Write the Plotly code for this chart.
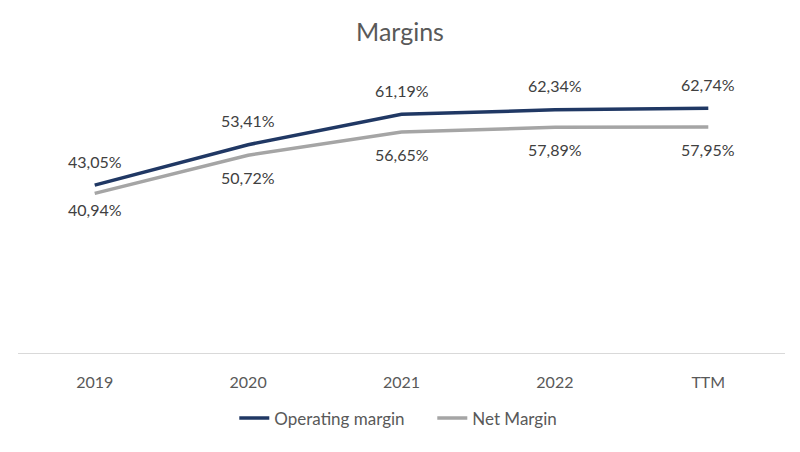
import plotly.graph_objects as go

years = ["2019", "2020", "2021", "2022", "TTM"]
operating_margin = [43.05, 53.41, 61.19, 62.34, 62.74]
net_margin = [40.94, 50.72, 56.65, 57.89, 57.95]

NAVY = "#203864"
GRAY = "#A5A5A5"
INK = "#404040"
FONT = "Lato, 'Open Sans', sans-serif"


def pct(v):
    return f"{v:.2f}%".replace(".", ",")


fig = go.Figure()
fig.add_trace(go.Scatter(x=years, y=operating_margin, name="Operating margin",
                         mode="lines", line=dict(color=NAVY, width=3.5)))
fig.add_trace(go.Scatter(x=years, y=net_margin, name="Net Margin",
                         mode="lines", line=dict(color=GRAY, width=3.5)))

# data labels: operating above the line, net below (x as category index)
for i, v in enumerate(operating_margin):
    fig.add_annotation(x=i, y=v, text=pct(v), showarrow=False, yshift=24,
                       font=dict(size=16, color=INK, family=FONT))
for i, v in enumerate(net_margin):
    fig.add_annotation(x=i, y=v, text=pct(v), showarrow=False,
                       yshift=-16 if i == 0 else -22,
                       font=dict(size=16, color=INK, family=FONT))

# page body has an 8px margin, so the figure is sized to fit the 800x452 window
fig.update_layout(
    width=784, height=436,
    paper_bgcolor="white", plot_bgcolor="white",
    font=dict(family=FONT, color="#595959", size=14),
    title=dict(text="Margins", x=0.5, xanchor="center", y=0.945, yanchor="middle",
               font=dict(size=25, color="#595959", family=FONT)),
    margin=dict(l=10, r=7, t=72, b=82),
    showlegend=True,
    legend=dict(orientation="h", x=0.282, xanchor="left", y=-0.24, yanchor="middle",
                entrywidth=153, entrywidthmode="pixels",
                font=dict(size=17, color="#595959", family=FONT), bgcolor="rgba(0,0,0,0)"),
    xaxis=dict(type="category", range=[-0.5, 4.5], showgrid=False, showline=True,
               linecolor="#D9D9D9", linewidth=1, ticks="",
               tickfont=dict(size=16, color="#595959"), ticklabelstandoff=15),
    yaxis=dict(range=[0, 70], visible=False, fixedrange=True),
)

fig.write_html("out.html")
